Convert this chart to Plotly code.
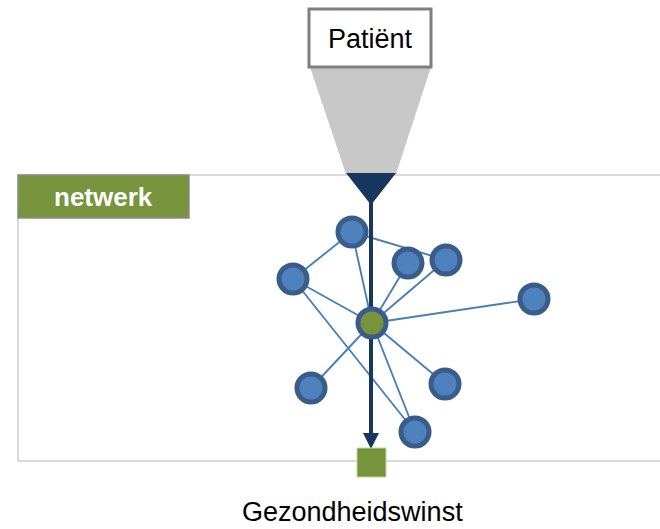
import plotly.graph_objects as go

# network nodes (pixel-like coordinates, y grows downward)
node_names = ["A", "B", "C", "D", "E", "F", "G", "H"]
node_x = [352, 293, 408, 446, 534, 311, 445, 415]
node_y = [232, 279, 263, 260, 299, 388, 384, 432]

center_x = 372
center_y = 323

# links: pairs of node names, "Z" is the central (patient) node
edges = [("A", "B"), ("A", "D"), ("A", "Z"), ("B", "Z"), ("B", "H"),
         ("C", "Z"), ("D", "Z"), ("E", "Z"), ("F", "Z"), ("G", "Z"), ("H", "Z")]

top_label = "Patiënt"
frame_label = "netwerk"
bottom_label = "Gezondheidswinst"

GREEN = "#77933c"
BLUE = "#4f81bd"
BLUE_DARK = "#385d8a"
NAVY = "#17375e"
FONT = "Liberation Sans, Arial, sans-serif"

pos = {n: (x, y) for n, x, y in zip(node_names, node_x, node_y)}
pos["Z"] = (center_x, center_y)

ex, ey = [], []
for a, b in edges:
    ex += [pos[a][0], pos[b][0], None]
    ey += [pos[a][1], pos[b][1], None]

fig = go.Figure()

# edges
fig.add_trace(go.Scatter(x=ex, y=ey, mode="lines",
                         line=dict(color="#4a7ebb", width=1.9),
                         hoverinfo="skip", showlegend=False))

# patient -> health gain arrow shaft
fig.add_trace(go.Scatter(x=[center_x - 1, center_x - 1], y=[195, 436], mode="lines",
                         line=dict(color=NAVY, width=4),
                         hoverinfo="skip", showlegend=False))

# network nodes
fig.add_trace(go.Scatter(x=node_x, y=node_y, mode="markers",
                         marker=dict(size=28, color=BLUE,
                                     line=dict(color=BLUE_DARK, width=5)),
                         hoverinfo="skip", showlegend=False))

# central node
fig.add_trace(go.Scatter(x=[center_x], y=[center_y], mode="markers",
                         marker=dict(size=28, color=GREEN,
                                     line=dict(color=BLUE_DARK, width=5)),
                         hoverinfo="skip", showlegend=False))

shapes = [
    # grey funnel from patient box
    dict(type="path", path="M 310 67 L 431 67 L 396 174 L 346 174 Z",
         fillcolor="#c8c8c8", line=dict(width=0), layer="below"),
    # network frame
    dict(type="line", x0=18, x1=660, y0=175, y1=175,
         line=dict(color="#d9d9d9", width=2), layer="below"),
    dict(type="line", x0=18, x1=660, y0=461, y1=461,
         line=dict(color="#d9d9d9", width=2), layer="below"),
    dict(type="line", x0=18, x1=18, y0=175, y1=461,
         line=dict(color="#d9d9d9", width=2), layer="below"),
    # label box
    dict(type="rect", x0=18, x1=189, y0=175, y1=218,
         fillcolor=GREEN, line=dict(color="#8c8c8c", width=1.5)),
    # patient box
    dict(type="rect", x0=309, x1=431, y0=9, y1=67,
         fillcolor="white", line=dict(color="#7f7f7f", width=3)),
    # top triangle
    dict(type="path", path="M 346 173 L 396 173 L 371 205 Z",
         fillcolor=NAVY, line=dict(width=0)),
    # arrow head
    dict(type="path", path="M 363 433 L 379 433 L 371 449 Z",
         fillcolor=NAVY, line=dict(width=0)),
    # health gain square
    dict(type="rect", x0=357, x1=386, y0=448, y1=477,
         fillcolor=GREEN, line=dict(color="#c3d69b", width=1)),
]

annotations = [
    dict(x=370, y=39, text=top_label, showarrow=False,
         font=dict(family=FONT, size=27, color="black")),
    dict(x=103, y=197, text="<b>" + frame_label + "</b>", showarrow=False,
         font=dict(family=FONT, size=26, color="white")),
    dict(x=352, y=512, text=bottom_label, showarrow=False,
         font=dict(family=FONT, size=27, color="black")),
]

fig.update_layout(
    width=660, height=529,
    margin=dict(l=0, r=0, t=0, b=0),
    paper_bgcolor="white", plot_bgcolor="white",
    xaxis=dict(range=[0, 660], visible=False, fixedrange=True),
    yaxis=dict(range=[529, 0], visible=False, fixedrange=True),
    shapes=shapes,
    annotations=annotations,
)

# drop the default page margin so the figure fills the window
fig.write_html("out.html", config={"displayModeBar": False},
               post_script="document.body.style.margin='0';"
                           "document.body.style.overflow='hidden';")
